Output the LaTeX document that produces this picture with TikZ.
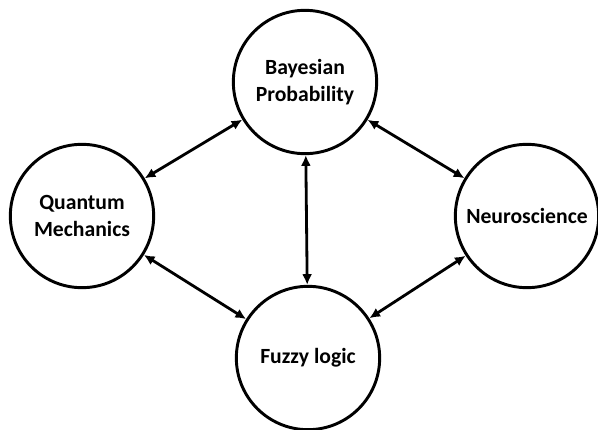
\documentclass[tikz,border=0pt]{standalone}
\usepackage{fontspec}
\setmainfont{Carlito}
\usetikzlibrary{arrows.meta}

\tikzset{
  field/.style={circle, draw, line width=2.5pt, minimum size=4.3cm, inner sep=0pt, align=center},
  link/.style={{Latex[length=3.2mm,width=3mm]}-{Latex[length=3.2mm,width=3mm]}, line width=2.4pt}
}

\begin{document}
\begin{tikzpicture}[x=0.03cm, y=-0.03cm, font=\bfseries\fontsize{18.5}{23}\selectfont]

\useasboundingbox (0,0) rectangle (598,430);

\node[field] (bay) at (305,82) {Bayesian\\Probability};
\node[field] (qm)  at (82,216) {Quantum\\Mechanics};
\node[field] (neu) at (527,216) {Neuroscience};
\node[field] (fuz) at (308,358) {Fuzzy logic};

\draw[link] (qm) -- (bay);
\draw[link] (bay) -- (neu);
\draw[link] (qm) -- (fuz);
\draw[link] (fuz) -- (neu);
\draw[link] (bay) -- (fuz);

\end{tikzpicture}
\end{document}
